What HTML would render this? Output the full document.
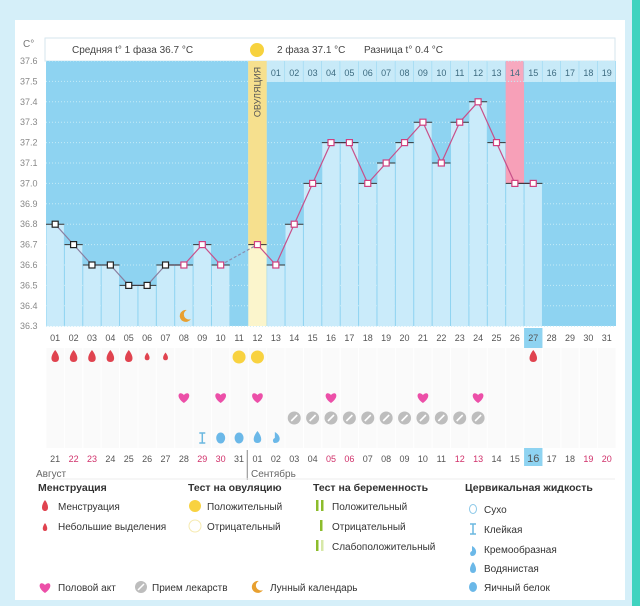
<!DOCTYPE html>
<html><head><meta charset="utf-8">
<style>
body{margin:0;width:640px;height:606px;overflow:hidden;background:#d5eff9;font-family:"Liberation Sans",sans-serif;}
#card{position:absolute;left:15px;top:20px;width:610px;height:580px;background:#fff;}
#teal{position:absolute;left:632px;top:0;width:8px;height:606px;background:#3fd3bf;}
svg{position:absolute;left:0;top:0;}
</style></head><body>
<div id="card"></div>
<div id="teal"></div>
<svg id="s" width="640" height="606"></svg>
<script>
const days=["01","02","03","04","05","06","07","08","09","10","11","12","13","14","15","16","17","18","19","20","21","22","23","24","25","26","27","28","29","30","31"];
const temps=[36.8,36.7,36.6,36.6,36.5,36.5,36.6,36.6,36.7,36.6,null,36.7,36.6,36.8,37.0,37.2,37.2,37.0,37.1,37.2,37.3,37.1,37.3,37.4,37.2,37.0,37.0];
const yTicks=[37.6,37.5,37.4,37.3,37.2,37.1,37.0,36.9,36.8,36.7,36.6,36.5,36.4,36.3];
const dates=["21","22","23","24","25","26","27","28","29","30","31","01","02","03","04","05","06","07","08","09","10","11","12","13","14","15","16","17","18","19","20"];
const redDates=[1,2,8,9,15,16,22,23,29,30];
const menses=[2,2,2,2,2,1,1,0,0,0,0,0,0,0,0,0,0,0,0,0,0,0,0,0,0,0,2];
const ovTest=[11,12];
const sexDays=[8,10,12,16,21,24];
const pillDays=[14,15,16,17,18,19,20,21,22,23,24];
const cerv=[[9,"sticky"],[10,"egg"],[11,"egg"],[12,"water"],[13,"cream"]];
const S=document.getElementById('s');const NS="http://www.w3.org/2000/svg";
const X0=46,CW=570/31,Y0=61,PY=20.4;
const xc=i=>X0+(i+0.5)*CW; const xl=i=>X0+i*CW;
const yv=t=>Y0+(37.6-t)*PY*10;
function el(t,a,txt){const e=document.createElementNS(NS,t);for(const k in a)e.setAttribute(k,a[k]);if(txt!=null)e.textContent=txt;S.appendChild(e);return e;}
function moon(x,y,r){return el('path',{d:`M${x+r*0.3} ${y-r} A${r} ${r} 0 1 0 ${x+r} ${y+r*0.5} A${r*0.8} ${r*0.8} 0 0 1 ${x+r*0.3} ${y-r}Z`,fill:'#e8a030'});}
let h=el('rect',{x:45,y:38,width:570,height:23,fill:'#fff',stroke:'#d6e6ee'});

let t=el('text',{x:72,y:53,'font-size':10,fill:'#444'},'Средняя t° 1 фаза  36.7 °C');

t=el('text',{x:277,y:53,'font-size':10,fill:'#444'},'2 фаза 37.1 °C');

t=el('text',{x:364,y:53,'font-size':10,fill:'#444'},'Разница t° 0.4 °C');

let c=el('circle',{cx:257,cy:50,r:7,fill:'#f7d23e'});

el('text',{x:23,y:47,'font-size':10,fill:'#777'},'C°');
let bg=el('rect',{x:X0,y:Y0,width:570,height:265,fill:'#8ed3f1'});

for(let i=12;i<31;i++){
 let r=el('rect',{x:xl(i),y:Y0,width:CW-0.5,height:21,fill:i==25?'#f7a9bf':'#c8eaf8'});
 
 el('text',{x:xc(i),y:76,'font-size':9,fill:'#3d6b80','text-anchor':'middle'},String(i-11).padStart(2,'0'));
}
yTicks.forEach(v=>{
 el('line',{x1:X0,x2:X0+570,y1:yv(v),y2:yv(v),stroke:'#c4ebf8','stroke-dasharray':'1,2','stroke-width':1});
 let l=el('text',{x:20,y:yv(v)+3,'font-size':9,fill:'#888'},v.toFixed(1));
 
});
temps.forEach((v,i)=>{
 if(v==null||i==11)return;
 let r=el('rect',{x:xl(i)+0.5,y:yv(v),width:CW-1,height:yv(36.3)-yv(v),fill:'#caebfa'});
 
});
let pk=el('rect',{x:xl(25),y:Y0+21,width:CW,height:yv(temps[25])-Y0-21,fill:'#f7a0b8'});

let ov=el('rect',{x:xl(11),y:Y0,width:CW,height:265,fill:'#fbf5cc'});

el('rect',{x:xl(11),y:Y0,width:CW,height:yv(temps[11])-Y0,fill:'#f6e08e'});
t=el('text',{x:0,y:0,'font-size':9,fill:'#555','text-anchor':'middle',transform:`translate(${xc(11)+3},${92}) rotate(-90)`},'ОВУЛЯЦИЯ');

let pts=[];temps.forEach((v,i)=>{if(v!=null)pts.push([i,v]);});
for(let k=0;k<pts.length-1;k++){
 const [i1,v1]=pts[k],[i2,v2]=pts[k+1];
 el('line',{x1:xc(i1),y1:yv(v1),x2:xc(i2),y2:yv(v2),stroke:i2-i1>1?'#8a8fb0':(i1<6?'#8a7fa0':'#c8508a'),'stroke-width':1.2,'stroke-dasharray':i2-i1>1?'3,2':'none'});
}
temps.forEach((v,i)=>{
 if(v==null)return;
 el('line',{x1:xl(i),x2:xl(i)+CW,y1:yv(v),y2:yv(v),stroke:'#333','stroke-width':1});
 let m=el('rect',{x:xc(i)-3,y:yv(v)-3,width:6,height:6,fill:'#fff',stroke:i<7?'#222':'#d0407f','stroke-width':1.2});
 
});
let mn=moon(xc(7)+1,316,6);
days.forEach((d,i)=>{
 if(i==26)el('rect',{x:xl(i),y:328,width:CW,height:20,fill:'#8ed3f1'});
 let l=el('text',{x:xc(i),y:341,'font-size':9,fill:'#555','text-anchor':'middle'},d);
 
});
for(let i=0;i<31;i++)el('rect',{x:xl(i)+0.5,y:348,width:CW-1,height:100,fill:'#fafafa'});
menses.forEach((m,i)=>{
 if(!m)return;const s=m==2?1:0.65;const x=xc(i),y=357;
 let p=el('path',{d:`M${x} ${y-7*s} C${x+5*s} ${y-1*s},${x+5*s} ${y+5*s},${x} ${y+5*s} C${x-5*s} ${y+5*s},${x-5*s} ${y-1*s},${x} ${y-7*s}Z`,fill:'#e0434f'});
 
});
ovTest.forEach(d=>{let q=el('circle',{cx:xc(d-1),cy:357,r:6.5,fill:'#f8d240'});});
sexDays.forEach(d=>{let x=xc(d-1),y=398;let p=el('path',{d:`M${x} ${y+5} C${x-9} ${y-1},${x-5} ${y-8},${x} ${y-3} C${x+5} ${y-8},${x+9} ${y-1},${x} ${y+5}Z`,fill:'#ec4fa8'});});
pillDays.forEach(d=>{let x=xc(d-1),y=418;let q=el('circle',{cx:x,cy:y,r:6.5,fill:'#bdbdbd'});el('line',{x1:x-3,y1:y+3,x2:x+3,y2:y-3,stroke:'#fff','stroke-width':1.6});});
cerv.forEach(([d,k])=>{let x=xc(d-1),y=438,p;
 if(k=="sticky")p=el('path',{d:`M${x-3} ${y-5}H${x+3}M${x-3} ${y+5}H${x+3}M${x} ${y-5}V${y+5}`,stroke:'#6bb8e0','stroke-width':1.5,fill:'none'});
 else if(k=="egg")p=el('ellipse',{cx:x,cy:y,rx:4.5,ry:5.5,fill:'#6bb8e8'});
 else if(k=="water")p=el('path',{d:`M${x} ${y-7} C${x+5} ${y-1},${x+5} ${y+5},${x} ${y+5} C${x-5} ${y+5},${x-5} ${y-1},${x} ${y-7}Z`,fill:'#6bb8e8'});
 else p=el('path',{d:`M${x-1} ${y-6} C${x+6} ${y-2},${x+5} ${y+5},${x-1} ${y+5} C${x-3} ${y+5},${x-4} ${y+1},${x-1} ${y}Z`,fill:'#6bb8e8'});
 });
dates.forEach((d,i)=>{
 if(i==26)el('rect',{x:xl(i),y:448,width:CW,height:18,fill:'#8ed3f1'});
 let l=el('text',{x:xc(i),y:462,'font-size':i==26?11:9,fill:redDates.includes(i)?'#d0306a':'#555','text-anchor':'middle'},d);
 
});
el('line',{x1:xl(11)-1,x2:xl(11)-1,y1:450,y2:480,stroke:'#888'});
el('line',{x1:X0,x2:615,y1:479,y2:479,stroke:'#eee'});
el('text',{x:36,y:477,'font-size':10,fill:'#666'},'Август');
el('text',{x:251,y:477,'font-size':10,fill:'#666'},'Сентябрь');
function L(x,y,txt,b){let l=el('text',{x:x,y:y,'font-size':b?10.5:10,'font-weight':b?'bold':'normal',fill:'#333'},txt);}
L(38,491,'Менструация',1);L(188,491,'Тест на овуляцию',1);L(313,491,'Тест на беременность',1);L(465,491,'Цервикальная жидкость',1);
L(58,510,'Менструация');L(58,530,'Небольшие выделения');
L(207,510,'Положительный');L(207,530,'Отрицательный');
L(332,510,'Положительный');L(332,530,'Отрицательный');L(332,550,'Слабоположительный');
L(484,513,'Сухо');L(484,533,'Клейкая');L(484,553,'Кремообразная');L(484,572,'Водянистая');L(484,591,'Яичный белок');
L(58,591,'Половой акт');L(152,591,'Прием лекарств');L(270,591,'Лунный календарь');
el('path',{d:'M45 500 C49 505,49 511,45 511 C41 511,41 505,45 500Z',fill:'#e0434f'});
el('path',{d:'M45 523 C48 527,48 531,45 531 C42 531,42 527,45 523Z',fill:'#e0434f'});
el('circle',{cx:195,cy:506,r:6,fill:'#f8d240'});el('circle',{cx:195,cy:526,r:6,fill:'#fff',stroke:'#f6eab0'});
el('rect',{x:316,y:500,width:2.5,height:11,fill:'#8cbc2c'});el('rect',{x:321,y:500,width:2.5,height:11,fill:'#8cbc2c'});
el('rect',{x:320,y:520,width:2.5,height:11,fill:'#8cbc2c'});
el('rect',{x:316,y:540,width:2.5,height:11,fill:'#8cbc2c'});el('rect',{x:321,y:540,width:2.5,height:11,fill:'#d7e8a8'});
el('ellipse',{cx:473,cy:509,rx:3.5,ry:4.5,fill:'none',stroke:'#8cc8e8'});
el('path',{d:'M470 524H476M470 534H476M473 524V534',stroke:'#6bb8e0','stroke-width':1.5,fill:'none'});
el('path',{d:'M472 546 C478 549,477 556,472 556 C470 556,469 552,472 551Z',fill:'#6bb8e8'});
el('path',{d:'M473 562 C477 567,477 573,473 573 C469 573,469 567,473 562Z',fill:'#6bb8e8'});
el('ellipse',{cx:473,cy:587,rx:4,ry:5,fill:'#6bb8e8'});
el('path',{d:'M45 593 C36 587,40 580,45 585 C50 580,54 587,45 593Z',fill:'#ec4fa8'});
el('circle',{cx:141,cy:587,r:6,fill:'#bdbdbd'});el('line',{x1:138,y1:590,x2:144,y2:584,stroke:'#fff','stroke-width':1.5});
moon(257,587,6);
</script>
</body></html>
